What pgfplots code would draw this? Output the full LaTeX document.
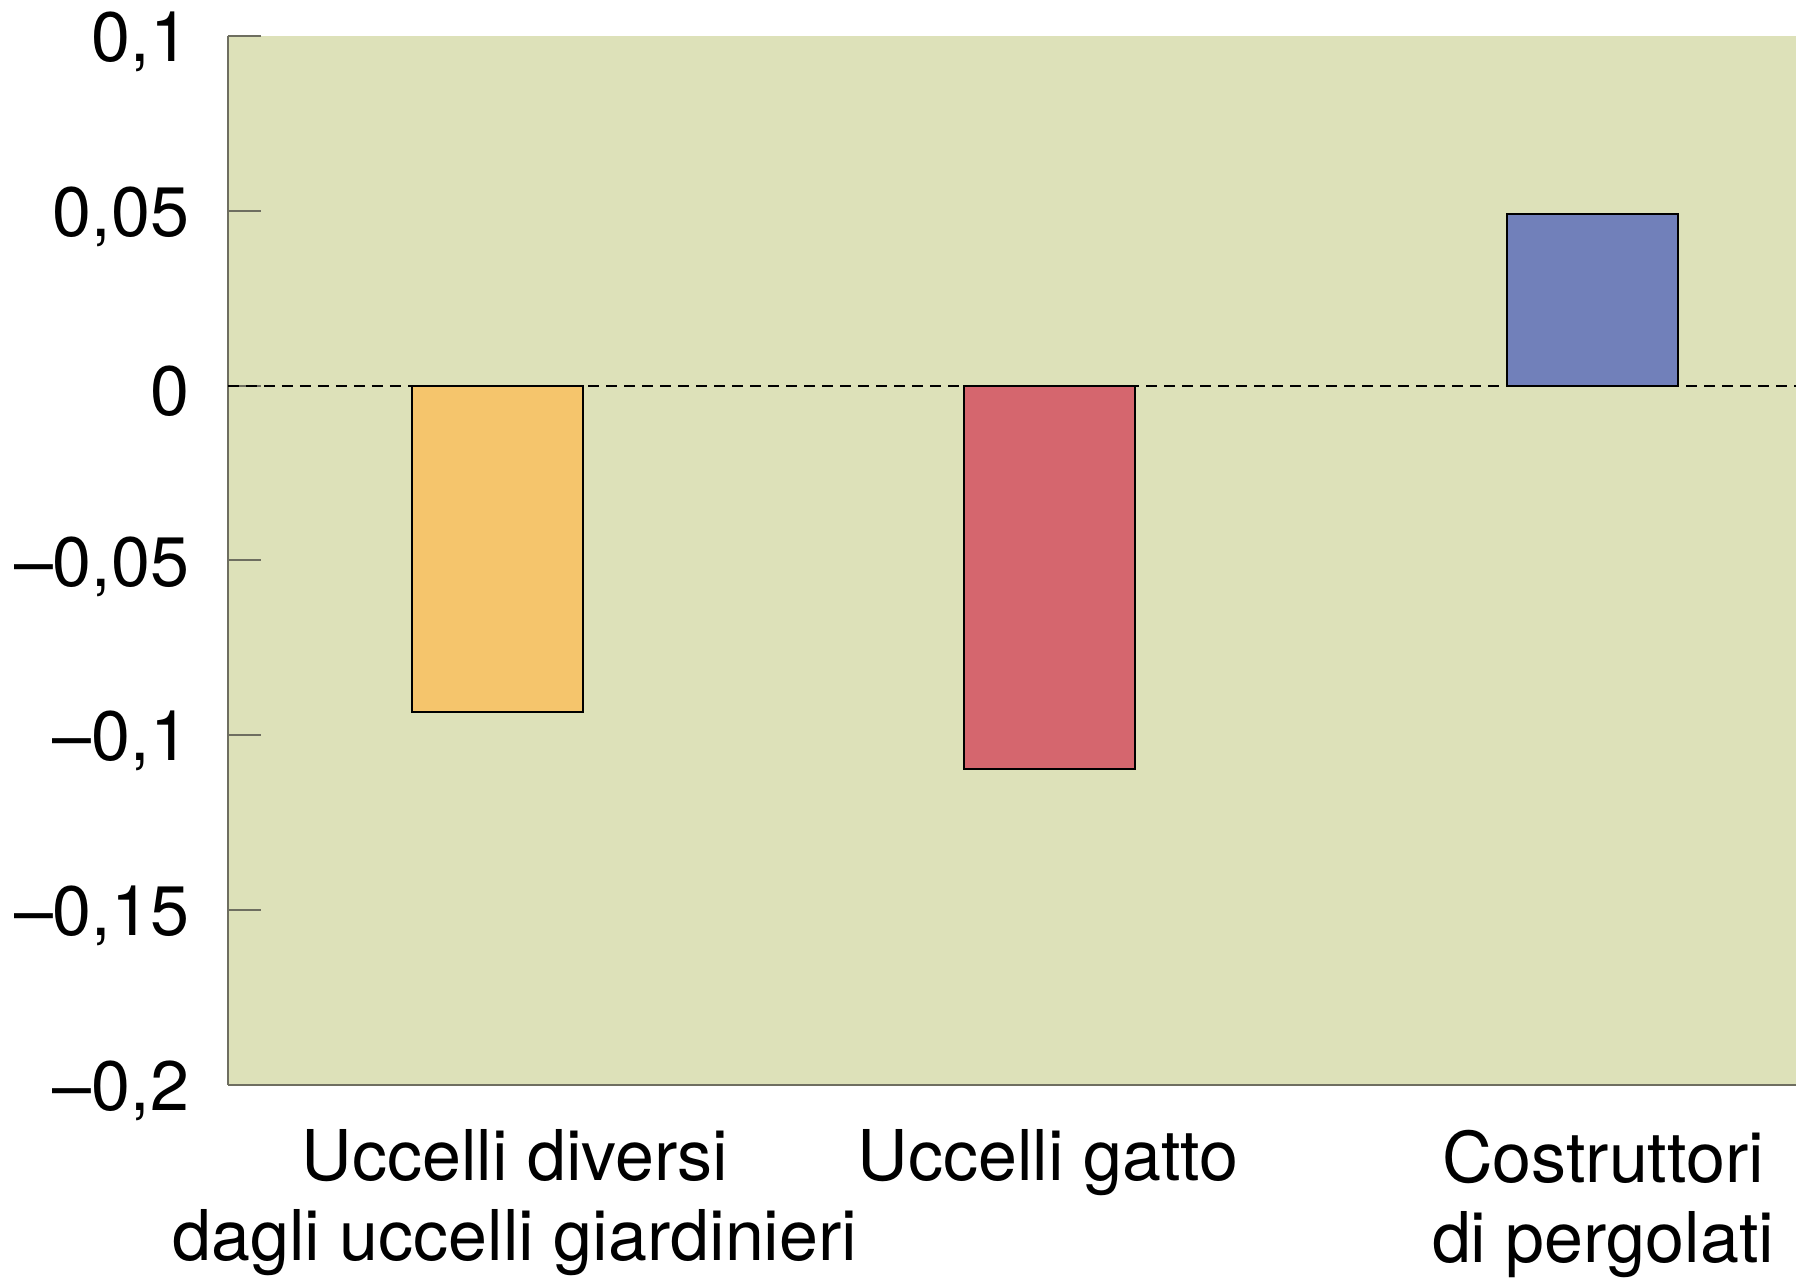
\documentclass[border=0pt]{standalone}
\usepackage{pgfplots}
\pgfplotsset{compat=1.18}
\usepackage{fontspec}
\setmainfont{TeX Gyre Heros}
\definecolor{bgc}{RGB}{221,225,185}
\definecolor{orc}{RGB}{245,197,108}
\definecolor{rdc}{RGB}{213,102,110}
\definecolor{blc}{RGB}{113,128,186}
\definecolor{axc}{RGB}{110,110,96}
\begin{document}
\begin{tikzpicture}
\fontsize{17.5}{20}\selectfont
\begin{axis}[
  scale only axis,
  width=392pt, height=262.25pt,
  xmin=228, xmax=1796,
  ymin=-0.2, ymax=0.1,
  axis x line*=bottom, axis y line*=left,
  axis line style={draw=axc, line width=0.5pt},
  axis background/.style={fill=bgc},
  ytick={-0.2,-0.15,-0.1,-0.05,0,0.05,0.1},
  yticklabels={{–0,2},{–0,15},{–0,1},{–0,05},{0},{0,05},{0,1}},
  tick align=inside,
  major tick length=8.25pt,
  ytick style={draw=axc, line width=0.5pt},
  yticklabel style={anchor=east, inner sep=0pt, xshift=-9.5pt, yshift=-1.5pt, font=\fontsize{17.5}{20}\selectfont},
  xtick={515,1048,1603},
  xticklabels={{Uccelli diversi\\dagli uccelli giardinieri},{Uccelli gatto},{Costruttori\\di pergolati}},
  xtick style={draw=none},
  xticklabel style={anchor=north, inner sep=0pt, yshift=-11pt, align=center, font=\fontsize{17.5}{20}\selectfont},
  clip=false,
]
\addplot[black, line width=0.45pt, dash pattern=on 2.75pt off 1.75pt] coordinates {(228,0) (1796,0)};
\addplot[ybar, bar shift=0pt, bar width=171, fill=orc, draw=black, line width=0.5pt] coordinates {(497.5,-0.0933)};
\addplot[ybar, bar shift=0pt, bar width=171, fill=rdc, draw=black, line width=0.5pt] coordinates {(1049,-0.1097)};
\addplot[ybar, bar shift=0pt, bar width=171, fill=blc, draw=black, line width=0.5pt] coordinates {(1592.5,0.049)};
\end{axis}
\pgfresetboundingbox
\path[use as bounding box] (-57pt,-49.5pt) rectangle (392pt,271.25pt);
\end{tikzpicture}
\end{document}
